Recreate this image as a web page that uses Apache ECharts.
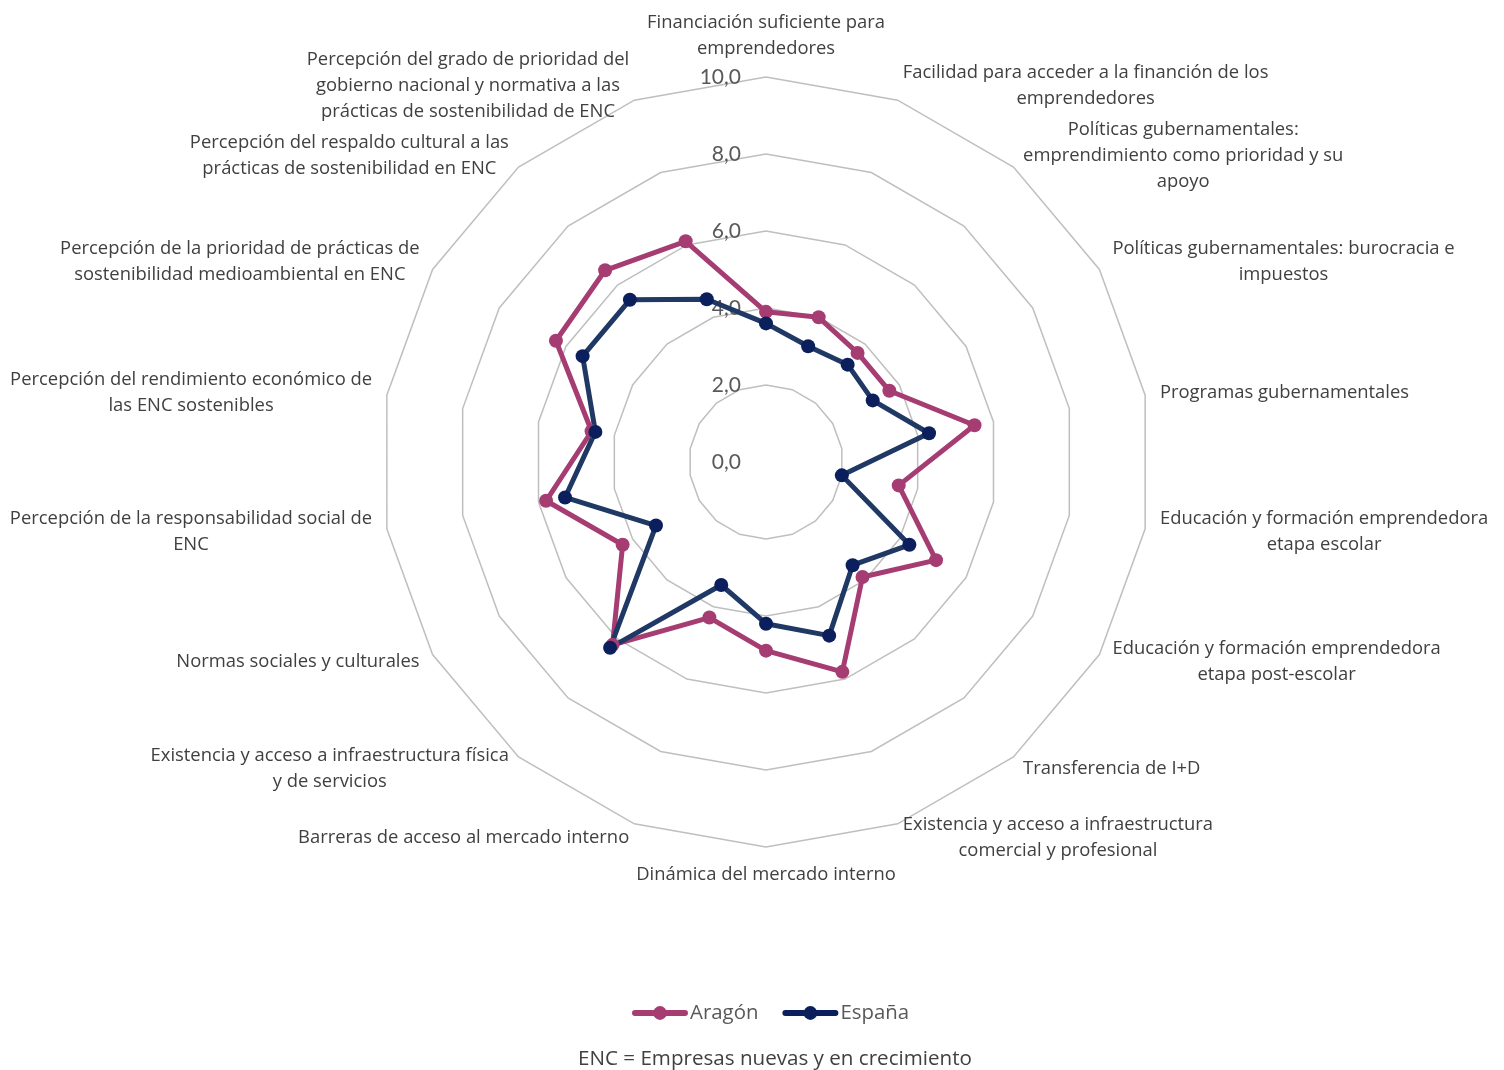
<!DOCTYPE html>
<html>
<head>
<meta charset="utf-8">
<script src="https://cdn.jsdelivr.net/npm/echarts@6/dist/echarts.min.js"></script>
<style>
  html, body { margin: 0; padding: 0; background: #fff; }
  #chart { width: 1504px; height: 1070px; }
</style>
</head>
<body>
<div id="chart"></div>
<script>
// categories, clockwise from the top
const categories = [
  'Financiación suficiente para\nemprendedores',
  'Facilidad para acceder a la financión de los\nemprendedores',
  'Políticas gubernamentales:\nemprendimiento como prioridad y su\napoyo',
  'Políticas gubernamentales: burocracia e\nimpuestos',
  'Programas gubernamentales',
  'Educación y formación emprendedora\netapa escolar',
  'Educación y formación emprendedora\netapa post-escolar',
  'Transferencia de I+D',
  'Existencia y acceso a infraestructura\ncomercial y profesional',
  'Dinámica del mercado interno',
  'Barreras de acceso al mercado interno',
  'Existencia y acceso a infraestructura física\ny de servicios',
  'Normas sociales y culturales',
  'Percepción de la responsabilidad social de\nENC',
  'Percepción del rendimiento económico de\nlas ENC sostenibles',
  'Percepción de la prioridad de prácticas de\nsostenibilidad medioambiental en ENC',
  'Percepción del respaldo cultural a las\nprácticas de sostenibilidad en ENC',
  'Percepción del grado de prioridad del\ngobierno nacional y normativa a las\nprácticas de sostenibilidad de ENC'
]
const aragon = [3.9, 4.0, 3.7, 3.7, 5.5, 3.5, 5.1, 3.9, 5.8, 4.9, 4.3, 6.2, 4.3, 5.8, 4.6, 6.3, 6.5, 6.1]
const espana = [3.6, 3.2, 3.3, 3.2, 4.3, 2.0, 4.3, 3.5, 4.8, 4.2, 3.4, 6.3, 3.3, 5.3, 4.5, 5.5, 5.5, 4.5]
const tickMax = 10
const tickStep = 2

const font = 'Open Sans'
const legendIcon = 'path://M2.5,4.5 L53.5,4.5 A3,3 0 0,1 53.5,10.5 L2.5,10.5 A3,3 0 0,1 2.5,4.5 Z M28,0.5 A7,7 0 1,1 28,14.5 A7,7 0 1,1 28,0.5 Z'

// echarts lays radar indicators counterclockwise, so flip the order
const order = [0].concat(categories.map((c, i) => i).slice(1).reverse())
const pick = arr => order.map(i => arr[i])

const chart = echarts.init(document.getElementById('chart'))
chart.setOption({
  animation: false,
  textStyle: { fontFamily: font },
  title: {
    text: 'ENC = Empresas nuevas y en crecimiento',
    left: 573,
    top: 1044,
    textStyle: { fontFamily: font, fontSize: 20.6, fontWeight: 'normal', color: '#404040' }
  },
  legend: {
    left: 627,
    top: 998,
    icon: legendIcon,
    itemWidth: 56,
    itemHeight: 15,
    itemGap: 24,
    textStyle: { fontFamily: font, fontSize: 20.4, color: '#595959', padding: [0, 0, 0, -3] },
    data: ['Aragón', 'España']
  },
  radar: {
    center: [766, 462],
    radius: 385,
    startAngle: 90,
    shape: 'polygon',
    splitNumber: 5,
    indicator: pick(categories).map(name => ({ name: name, min: 0, max: tickMax })),
    axisNameGap: 15,
    axisName: {
      formatter: name => name.split('\n').map(l => '{c|' + l + '}').join('\n'),
      rich: {
        c: { align: 'center', fontFamily: font, fontSize: 18.4, lineHeight: 26, color: '#404040' }
      }
    },
    axisLine: { show: false },
    axisTick: { show: false },
    splitArea: { show: false },
    splitLine: { lineStyle: { color: '#bfbfbf', width: 1.5 } }
  },
  polar: { center: [766, 462], radius: 385 },
  angleAxis: { show: false, startAngle: 90, min: 0, max: 360 },
  radiusAxis: {
    min: 0,
    max: tickMax,
    interval: tickStep,
    axisLine: { show: false },
    axisTick: { show: false },
    splitLine: { show: false },
    axisLabel: {
      margin: 25,
      fontFamily: 'Lato',
      fontSize: 21,
      color: '#595959',
      formatter: v => v.toFixed(1).replace('.', ',')
    }
  },
  series: [{
    type: 'radar',
    symbol: 'circle',
    symbolSize: 14,
    data: [
      {
        name: 'Aragón',
        value: pick(aragon),
        lineStyle: { color: '#a63d72', width: 5 },
        itemStyle: { color: '#a63d72' }
      },
      {
        name: 'España',
        value: pick(espana),
        lineStyle: { color: '#1f3864', width: 5 },
        itemStyle: { color: '#0b1f5c' }
      }
    ]
  }]
})
</script>
</body>
</html>
